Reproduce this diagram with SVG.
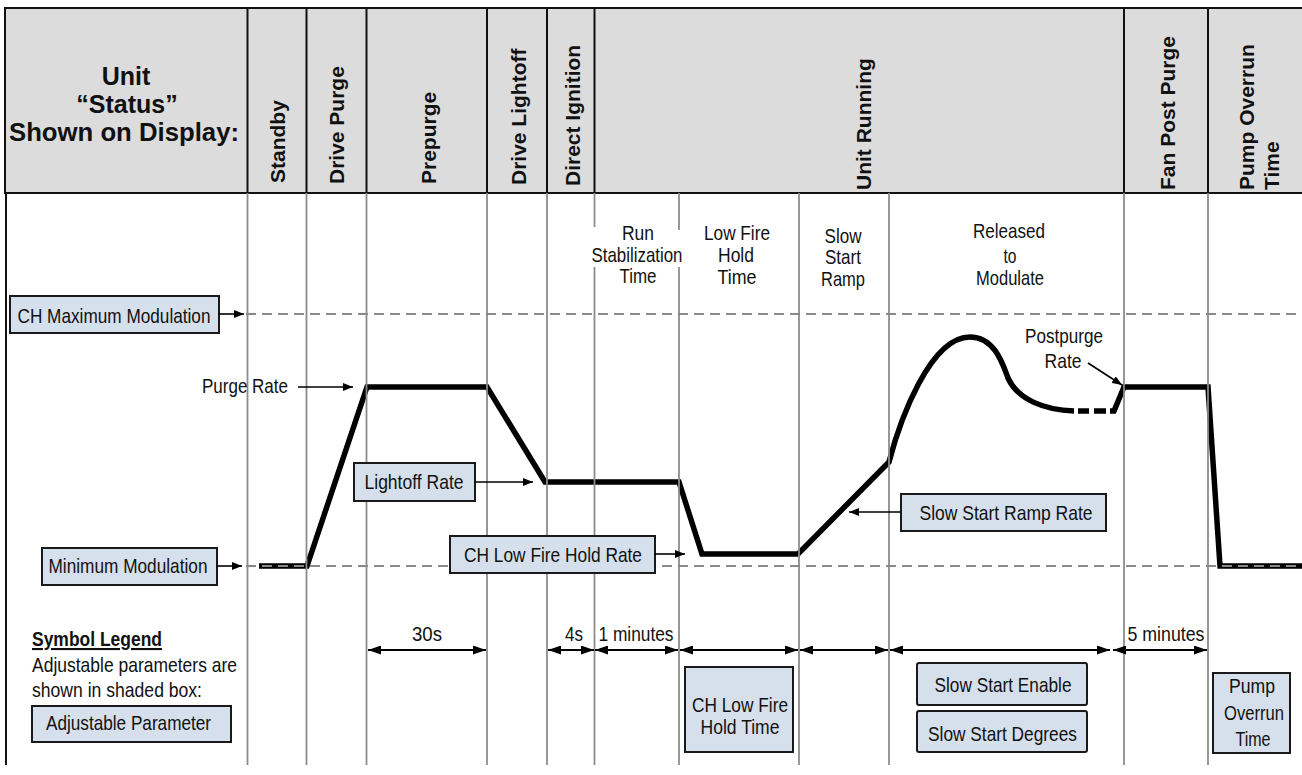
<svg xmlns="http://www.w3.org/2000/svg" width="1302" height="775" viewBox="0 0 1302 775">
<defs>
<style>
.hdr{font-family:"Liberation Sans",Arial,sans-serif;font-weight:bold;fill:#111}
.t{font-family:"Liberation Sans",Arial,sans-serif;font-size:21px;fill:#111}
.c{text-anchor:middle}
.box{fill:#d6e0ec;stroke:#1a1a1a;stroke-width:2}
.grid{stroke:#8c8c8c;stroke-width:1.8}
.sep{stroke:#111;stroke-width:2}
.dash{stroke:#8a8a8a;stroke-width:2.2;stroke-dasharray:10 6;fill:none}
.thick{stroke:#000;stroke-width:5.5;fill:none;stroke-linejoin:miter}
.ptr{stroke:#000;stroke-width:1.6;fill:none;marker-end:url(#ph)}
.dim{stroke:#000;stroke-width:2;fill:none;marker-end:url(#dh);marker-start:url(#dh)}
</style>
<marker id="ph" viewBox="0 0 10 8" refX="10" refY="4" markerWidth="10" markerHeight="8" markerUnits="userSpaceOnUse" orient="auto"><path d="M0,0 L10,4 L0,8 z" fill="#000"/></marker>
<marker id="dh" viewBox="0 0 13 9" refX="13" refY="4.5" markerWidth="13" markerHeight="9" markerUnits="userSpaceOnUse" orient="auto-start-reverse"><path d="M0,0 L13,4.5 L0,9 z" fill="#000"/></marker>
</defs>
<rect width="1302" height="775" fill="#fff"/>

<g id="header">
<rect x="5" y="8" width="1310" height="185" fill="#dcdcdc" stroke="#111" stroke-width="2"/>
<g class="sep">
<line x1="247.5" y1="8" x2="247.5" y2="193"/>
<line x1="306.5" y1="8" x2="306.5" y2="193"/>
<line x1="366.5" y1="8" x2="366.5" y2="193"/>
<line x1="487" y1="8" x2="487" y2="193"/>
<line x1="547" y1="8" x2="547" y2="193"/>
<line x1="594.5" y1="8" x2="594.5" y2="193"/>
<line x1="1124" y1="8" x2="1124" y2="193"/>
<line x1="1208" y1="8" x2="1208" y2="193"/>
</g>
<text class="hdr c" font-size="25" x="126" y="85">Unit</text>
<text class="hdr c" font-size="25" x="127" y="113">“Status”</text>
<text class="hdr c" font-size="25" x="124" y="141" textLength="230" lengthAdjust="spacingAndGlyphs">Shown on Display:</text>
<text class="hdr" font-size="21" transform="translate(285,183) rotate(-90)">Standby</text>
<text class="hdr" font-size="21" transform="translate(344,184) rotate(-90)">Drive Purge</text>
<text class="hdr" font-size="21" transform="translate(436,184) rotate(-90)">Prepurge</text>
<text class="hdr" font-size="21" transform="translate(526,185) rotate(-90)">Drive Lightoff</text>
<text class="hdr" font-size="21" transform="translate(579.5,186) rotate(-90)">Direct Ignition</text>
<text class="hdr" font-size="21" transform="translate(871,190) rotate(-90)">Unit Running</text>
<text class="hdr" font-size="21" transform="translate(1175,190) rotate(-90)">Fan Post Purge</text>
<text class="hdr" font-size="21" transform="translate(1254,190) rotate(-90)">Pump Overrun</text>
<text class="hdr" font-size="21" transform="translate(1279,190) rotate(-90)">Time</text>
</g>

<g id="rate-curve">
<path class="thick" d="M259,566 L307,566 L367,387 L487,387 L545,482 L679,482 L702,554 L798,554 L889,462 C900,420 930,337 970,337 C995,337 1003,365 1008,378 C1018,400 1045,410 1074,411"/>
<path class="thick" d="M1078,411 L1089,411 M1094,411 L1106,411"/>
<path class="thick" d="M1110,411 L1114,411 L1124,387 L1208,387 L1220,566 L1302,566"/>
</g>

<g id="grid">
<line x1="6" y1="193" x2="6" y2="765" stroke="#111" stroke-width="2"/>
<g class="grid">
<line x1="247.5" y1="193" x2="247.5" y2="765"/>
<line x1="306.5" y1="193" x2="306.5" y2="765"/>
<line x1="366.5" y1="193" x2="366.5" y2="765"/>
<line x1="487" y1="193" x2="487" y2="765"/>
<line x1="547" y1="193" x2="547" y2="765"/>
<line x1="594.5" y1="193" x2="594.5" y2="227"/>
<line x1="594.5" y1="267" x2="594.5" y2="765"/>
<line x1="679" y1="193" x2="679" y2="230"/>
<line x1="679" y1="267" x2="679" y2="765"/>
<line x1="799" y1="193" x2="799" y2="765"/>
<line x1="889" y1="193" x2="889" y2="765"/>
<line x1="1124" y1="193" x2="1124" y2="765"/>
<line x1="1208" y1="193" x2="1208" y2="765"/>
</g>
<line class="dash" x1="246" y1="314" x2="1302" y2="314"/>
<line class="dash" x1="246" y1="566" x2="1302" y2="566"/>
</g>

<g id="phase-labels">
<text class="t c" x="638" y="240" textLength="32" lengthAdjust="spacingAndGlyphs">Run</text>
<text class="t c" x="637" y="262" textLength="91" lengthAdjust="spacingAndGlyphs">Stabilization</text>
<text class="t c" x="638" y="283" textLength="37" lengthAdjust="spacingAndGlyphs">Time</text>
<text class="t c" x="737" y="240" textLength="66" lengthAdjust="spacingAndGlyphs">Low Fire</text>
<text class="t c" x="736" y="261.5" textLength="36" lengthAdjust="spacingAndGlyphs">Hold</text>
<text class="t c" x="737" y="283.5" textLength="39" lengthAdjust="spacingAndGlyphs">Time</text>
<text class="t c" x="843" y="242.5" textLength="37" lengthAdjust="spacingAndGlyphs">Slow</text>
<text class="t c" x="843" y="264" textLength="36" lengthAdjust="spacingAndGlyphs">Start</text>
<text class="t c" x="843" y="286" textLength="44" lengthAdjust="spacingAndGlyphs">Ramp</text>
<text class="t c" x="1009" y="238" textLength="72" lengthAdjust="spacingAndGlyphs">Released</text>
<text class="t c" x="1010" y="262.5" textLength="13" lengthAdjust="spacingAndGlyphs">to</text>
<text class="t c" x="1010" y="285" textLength="68" lengthAdjust="spacingAndGlyphs">Modulate</text>
</g>

<g id="ch-max-mod">
<rect class="box" x="10" y="296" width="209" height="37"/>
<text class="t c" x="114" y="322.5" textLength="193" lengthAdjust="spacingAndGlyphs">CH Maximum Modulation</text>
</g>
<g id="min-mod">
<rect class="box" x="42" y="548" width="175" height="37"/>
<text class="t c" x="128" y="573" textLength="159" lengthAdjust="spacingAndGlyphs">Minimum Modulation</text>
</g>
<g id="purge-rate">
<text class="t" x="202" y="393" textLength="86" lengthAdjust="spacingAndGlyphs">Purge Rate</text>
</g>
<g id="lightoff-rate">
<rect class="box" x="354" y="463" width="121" height="38"/>
<text class="t c" x="414" y="489" textLength="99" lengthAdjust="spacingAndGlyphs">Lightoff Rate</text>
</g>
<g id="ch-low-fire-hold-rate">
<rect class="box" x="450" y="536" width="205" height="37"/>
<text class="t c" x="553" y="562" textLength="178" lengthAdjust="spacingAndGlyphs">CH Low Fire Hold Rate</text>
</g>
<g id="slow-start-ramp-rate">
<rect class="box" x="901" y="494" width="205" height="37"/>
<text class="t c" x="1006" y="520" textLength="173" lengthAdjust="spacingAndGlyphs">Slow Start Ramp Rate</text>
</g>
<g id="postpurge-rate">
<text class="t c" x="1064" y="343" textLength="78" lengthAdjust="spacingAndGlyphs">Postpurge</text>
<text class="t c" x="1063" y="368" textLength="37" lengthAdjust="spacingAndGlyphs">Rate</text>
</g>

<g id="connectors">
<line class="ptr" x1="219" y1="314" x2="244" y2="314"/>
<line class="ptr" x1="298" y1="387" x2="353" y2="387"/>
<line class="ptr" x1="217" y1="566" x2="242" y2="566"/>
<line class="ptr" x1="475" y1="482" x2="533" y2="482"/>
<line class="ptr" x1="655" y1="554" x2="685" y2="554"/>
<line class="ptr" x1="901" y1="512" x2="849" y2="512"/>
<line class="ptr" x1="1088" y1="363" x2="1122" y2="385"/>
<line class="dim" x1="368" y1="650" x2="486" y2="650"/>
<line class="dim" x1="548" y1="650" x2="594" y2="650"/>
<line class="dim" x1="595" y1="650" x2="678" y2="650"/>
<line class="dim" x1="680" y1="650" x2="798" y2="650"/>
<line class="dim" x1="800" y1="650" x2="888" y2="650"/>
<line class="dim" x1="890" y1="650" x2="1110" y2="650"/>
<line class="dim" x1="1113" y1="650" x2="1207" y2="650"/>
</g>

<g id="durations">
<text class="t c" x="427" y="641" textLength="30" lengthAdjust="spacingAndGlyphs">30s</text>
<text class="t c" x="574" y="641" textLength="18" lengthAdjust="spacingAndGlyphs">4s</text>
<text class="t c" x="636" y="641" textLength="75" lengthAdjust="spacingAndGlyphs">1 minutes</text>
<text class="t c" x="1166" y="641" textLength="77" lengthAdjust="spacingAndGlyphs">5 minutes</text>
</g>

<g id="legend">
<text class="t" x="32" y="646" font-weight="bold" text-decoration="underline" textLength="130" lengthAdjust="spacingAndGlyphs">Symbol Legend</text>
<text class="t" x="32" y="672" textLength="205" lengthAdjust="spacingAndGlyphs">Adjustable parameters are</text>
<text class="t" x="32" y="697" textLength="170" lengthAdjust="spacingAndGlyphs">shown in shaded box:</text>
<rect class="box" x="32" y="706" width="199" height="36"/>
<text class="t c" x="128.5" y="730" textLength="165" lengthAdjust="spacingAndGlyphs">Adjustable Parameter</text>
</g>

<g id="ch-low-fire-hold-time">
<rect class="box" x="685" y="667" width="108" height="85"/>
<text class="t c" x="740" y="711.5" textLength="96" lengthAdjust="spacingAndGlyphs">CH Low Fire</text>
<text class="t c" x="740" y="734" textLength="79" lengthAdjust="spacingAndGlyphs">Hold Time</text>
</g>
<g id="slow-start-enable">
<rect class="box" x="917" y="663" width="170" height="42" rx="2"/>
<text class="t c" x="1003" y="691.5" textLength="137" lengthAdjust="spacingAndGlyphs">Slow Start Enable</text>
</g>
<g id="slow-start-degrees">
<rect class="box" x="917" y="711" width="170" height="41" rx="2"/>
<text class="t c" x="1002.5" y="741" textLength="149" lengthAdjust="spacingAndGlyphs">Slow Start Degrees</text>
</g>
<g id="pump-overrun-time">
<rect class="box" x="1213" y="673" width="77" height="80"/>
<text class="t c" x="1252" y="693" textLength="46" lengthAdjust="spacingAndGlyphs">Pump</text>
<text class="t c" x="1254" y="720" textLength="60" lengthAdjust="spacingAndGlyphs">Overrun</text>
<text class="t c" x="1253" y="746" textLength="35" lengthAdjust="spacingAndGlyphs">Time</text>
</g>
</svg>
